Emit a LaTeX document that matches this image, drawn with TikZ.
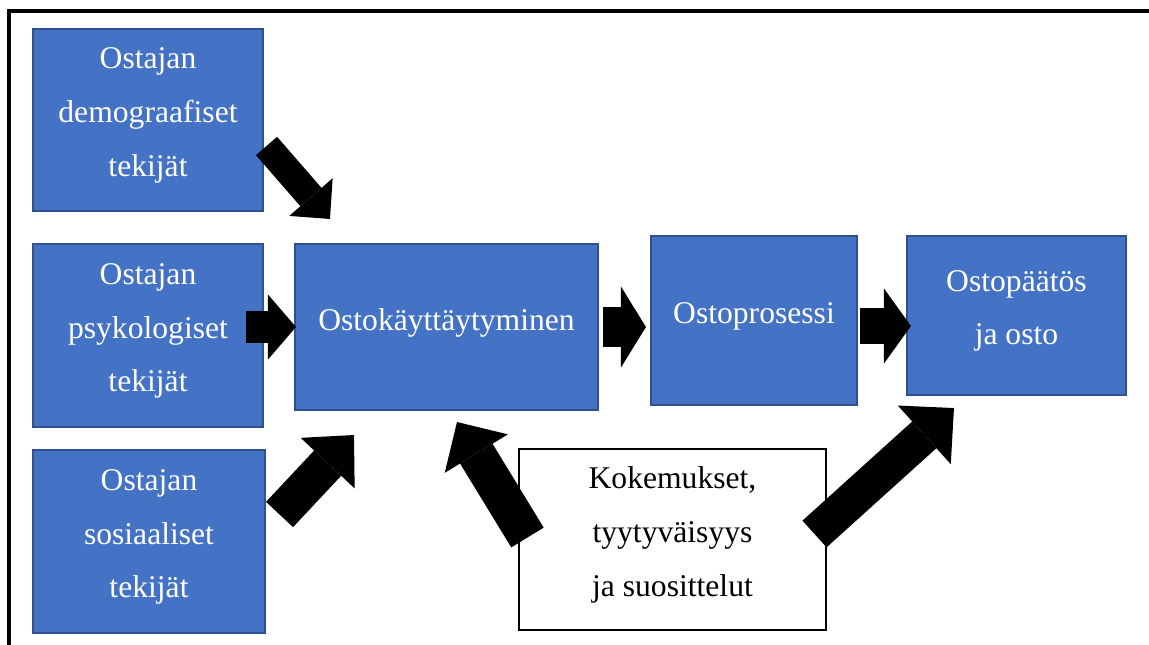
\documentclass[tikz,border=0pt]{standalone}
\usepackage{fontspec}
\setmainfont{Liberation Serif}
\usetikzlibrary{arrows.meta,positioning,calc}
\definecolor{laatikko}{HTML}{4472C4}
\definecolor{reuna}{HTML}{2F528F}

\begin{document}
\begin{tikzpicture}[x=0.02cm, y=-0.02cm,
  tekija/.style={draw=reuna, line width=1.2pt, fill=laatikko, text=white, align=center, inner sep=0pt, text depth=9pt, font=\fontsize{18}{30.6}\selectfont},
  kokemus/.style={draw=black, line width=1.2pt, fill=white, align=center, inner sep=0pt, text depth=9pt, font=\fontsize{18}{30.6}\selectfont},
  nuoli/.style n args={3}{line width=#1, -{Triangle[width=#2, length=#3, line width=0pt]}}]
\useasboundingbox (0,0) rectangle (1149,645);
\draw[line width=2pt] (1149,11) -- (9,11) -- (9,645);

% tekijat vasemmalla
\node[tekija, minimum width=4.6cm, minimum height=3.64cm] (demo) at (148,120) {Ostajan\\demograafiset\\tekijät};
\node[tekija, minimum width=4.6cm, minimum height=3.66cm] (psyk) at (148,335.5) {Ostajan\\psykologiset\\tekijät};
\node[tekija, minimum width=4.64cm, minimum height=3.66cm] (sosi) at (149,541.5) {Ostajan\\sosiaaliset\\tekijät};

% prosessin vaiheet
\node[tekija, minimum width=6.06cm, minimum height=3.32cm] (kaytt) at (446.5,327) {Ostokäyttäytyminen};
\node[tekija, minimum width=4.12cm, minimum height=3.38cm] (prosessi) at (754,320.5) {Ostoprosessi};
\node[tekija, minimum width=4.38cm, minimum height=3.18cm] (paatos) at (1016.5,315.5) {Ostopäätös\\ja osto};
\node[kokemus, minimum width=6.14cm, minimum height=3.62cm] (kokem) at (672.5,539.5) {Kokemukset,\\tyytyväisyys\\ja suosittelut};

% nuolet
\draw[nuoli={0.56cm}{1.15cm}{0.58cm}] ($(demo.east)+(2.5,26)$) -- ($(kaytt.north west)+(36,-24)$);
\draw[nuoli={0.63cm}{1.30cm}{0.56cm}] ($(psyk.east |- kaytt.west)+(-18,0)$) -- ($(kaytt.west)+(2,0)$);
\draw[nuoli={0.74cm}{1.48cm}{0.77cm}] ($(sosi.east)+(13.5,-27)$) -- ($(kaytt.south west)+(60,24)$);
\draw[nuoli={0.80cm}{1.62cm}{0.50cm}] ($(kaytt.east)+(4,0)$) -- ($(kaytt.east -| prosessi.west)+(-4,0)$);
\draw[nuoli={0.72cm}{1.50cm}{0.54cm}] ($(prosessi.east)+(2,5.5)$) -- ($(prosessi.east -| paatos.west)+(5,5.5)$);
\draw[nuoli={0.76cm}{1.48cm}{0.74cm}] ($(kokem.west)+(9.5,-2)$) -- ($(kaytt.south)+(10.5,11)$);
\draw[nuoli={0.72cm}{1.58cm}{0.80cm}] ($(kokem.east)+(-12.5,-5.5)$) -- ($(paatos.south west)+(48,12)$);
\end{tikzpicture}
\end{document}
